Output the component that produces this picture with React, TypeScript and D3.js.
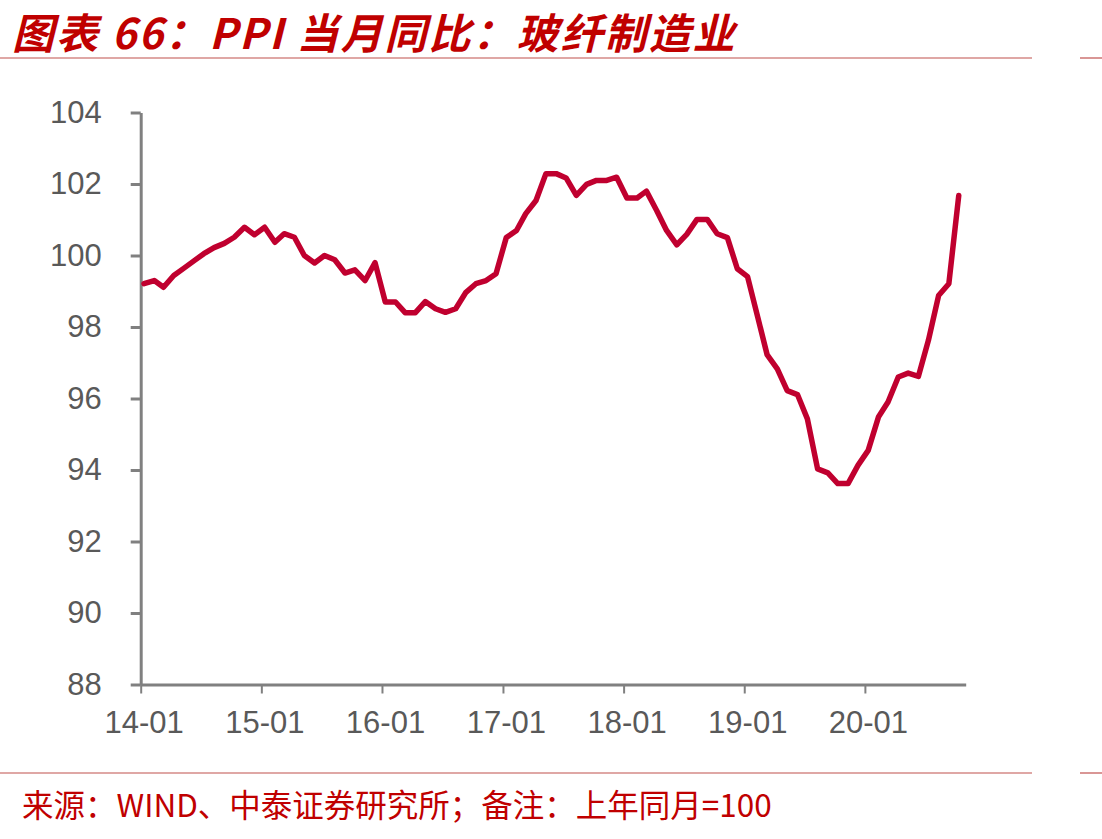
import React, { useEffect, useRef } from 'react';
import * as d3 from 'd3';

// 玻纤制造业 PPI 当月同比 (上年同月=100), 2014-01 .. 2020-10
const startYear = 2014;
const ppiValues: number[] = [
  99.21, 99.30, 99.11, 99.44, 99.64, 99.85, 100.05, 100.22, 100.34, 100.51, 100.79, 100.58,
  100.79, 100.37, 100.61, 100.51, 100.0, 99.79, 100.0, 99.88, 99.51, 99.6, 99.3, 99.8,
  98.7, 98.7, 98.4, 98.4, 98.71, 98.51, 98.41, 98.51, 98.97, 99.21, 99.3, 99.49,
  100.5, 100.7, 101.17, 101.54, 102.29, 102.29, 102.17, 101.68, 101.99, 102.1, 102.1, 102.19,
  101.61, 101.61, 101.8, 101.26, 100.7, 100.3, 100.59, 101.01, 101.01, 100.61, 100.5, 99.63,
  99.41, 98.27, 97.23, 96.83, 96.22, 96.11, 95.43, 94.03, 93.92, 93.62, 93.62, 94.13,
  94.55, 95.48, 95.9, 96.6, 96.71, 96.62, 97.62, 98.88, 99.21, 101.68,
];
const xTickLabels = ['14-01', '15-01', '16-01', '17-01', '18-01', '19-01', '20-01'];
const yTicks = [88, 90, 92, 94, 96, 98, 100, 102, 104];

const title = '图表 66：PPI 当月同比：玻纤制造业';
const source = '来源：WIND、中泰证券研究所；备注：上年同月=100';

const W = 1102;
const H = 839;

export default function App() {
  const svgRef = useRef<SVGSVGElement>(null);

  useEffect(() => {
    if (!svgRef.current) return;
    const svg = d3.select(svgRef.current);
    svg.selectAll('*').remove();

    const red = '#C00000';
    const axisGray = '#808080';
    const labelGray = '#595959';

    // monthly points, plotted a little after the month start on a date axis
    const data = ppiValues.map((v, i) => ({ date: new Date(startYear, i, 11), value: v }));
    const tickDates = xTickLabels.map(l => new Date(2000 + +l.slice(0, 2), 0, 1));

    const x = d3.scaleTime()
      .domain([new Date(2014, 0, 1), new Date(2020, 10, 1)])
      .range([140.7, 965.7]);
    const y = d3.scaleLinear().domain([88, 104]).range([684.5, 112.5]);

    // title + rules
    svg.append('text')
      .attr('x', 12)
      .attr('y', 49)
      .style('font-family', '"Noto Sans CJK SC", sans-serif')
      .style('font-size', '42px')
      .style('letter-spacing', '2px')
      .style('font-weight', 'bold')
      .style('font-style', 'italic')
      .style('fill', red)
      .text(title);

    [58, 773].forEach(yy => {
      svg.append('line').attr('x1', 0).attr('x2', 1032).attr('y1', yy).attr('y2', yy)
        .style('stroke', '#C0504D').style('stroke-width', 1.2);
      svg.append('line').attr('x1', 1080).attr('x2', W).attr('y1', yy).attr('y2', yy)
        .style('stroke', '#C0504D').style('stroke-width', 1.2);
    });

    // axes
    const gy = svg.append('g')
      .attr('transform', `translate(${x.range()[0]},0)`)
      .call(d3.axisLeft(y).tickValues(yTicks).tickSize(10).tickPadding(29).tickSizeOuter(0));
    gy.select('.domain').style('stroke', axisGray).style('stroke-width', 3);
    gy.selectAll('.tick line').style('stroke', axisGray).style('stroke-width', 3);
    gy.selectAll('.tick text')
      .style('font-family', '"Liberation Sans", Arial, sans-serif')
      .style('font-size', '31px')
      .style('fill', labelGray);

    const gx = svg.append('g')
      .attr('transform', `translate(0,${y.range()[0]})`)
      .call(d3.axisBottom(x).tickValues(tickDates).tickSize(9).tickPadding(17)
        .tickSizeOuter(0)
        .tickFormat((_d, i) => xTickLabels[i]));
    gx.select('.domain').style('stroke', axisGray).style('stroke-width', 3);
    gx.selectAll('.tick line').style('stroke', axisGray).style('stroke-width', 2);
    gx.selectAll('.tick text')
      .attr('dx', 3)
      .style('font-family', '"Liberation Sans", Arial, sans-serif')
      .style('font-size', '31px')
      .style('fill', labelGray);

    // series line
    const line = d3.line<{ date: Date; value: number }>()
      .x(d => x(d.date))
      .y(d => y(d.value));
    svg.append('path')
      .datum(data)
      .attr('d', line)
      .style('fill', 'none')
      .style('stroke', '#C0002F')
      .style('stroke-width', 5.5)
      .style('stroke-linejoin', 'round')
      .style('stroke-linecap', 'round');

    // source note
    svg.append('text')
      .attr('x', 22)
      .attr('y', 817)
      .style('font-family', '"Noto Sans CJK SC", sans-serif')
      .style('font-size', '31.5px')
      .style('fill', red)
      .text(source);
  }, []);

  return (
    <svg
      ref={svgRef}
      width={W}
      height={H}
      viewBox={`0 0 ${W} ${H}`}
      style={{ position: 'absolute', left: 0, top: 0, background: '#fff', display: 'block' }}
    />
  );
}
